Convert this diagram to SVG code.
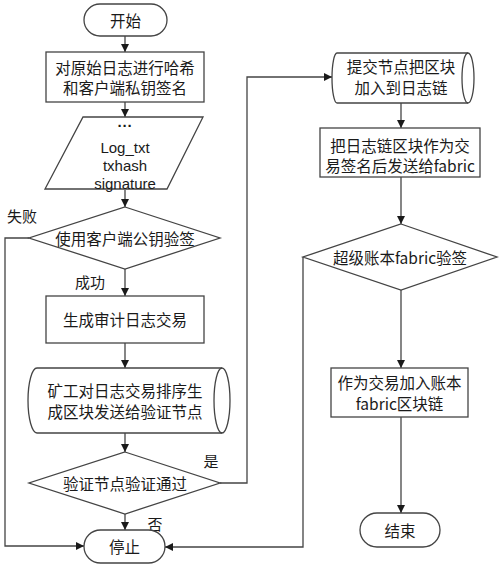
<svg xmlns="http://www.w3.org/2000/svg" width="500" height="569" viewBox="0 0 500 569">
<defs>
<marker id="ah" viewBox="0 0 10 10" refX="10" refY="5" markerWidth="8" markerHeight="8" markerUnits="userSpaceOnUse" orient="auto">
<path d="M0,0 L10,5 L0,10 Z" fill="#1a1a1a"/>
</marker>
<style>
.s{fill:#fff;stroke:#444;stroke-width:1.3}
.c{fill:none;stroke:#444;stroke-width:1.3}
.t{font-family:"Noto Sans CJK SC","Noto Sans",sans-serif;font-size:15.5px;fill:#1a1a1a;text-anchor:middle;dominant-baseline:central}
.e{font-family:"Liberation Sans",Arial,sans-serif;font-size:15px;fill:#1a1a1a;text-anchor:middle;dominant-baseline:central}
.l{font-family:"Noto Sans CJK SC","Noto Sans",sans-serif;font-size:15px;fill:#1a1a1a;text-anchor:middle;dominant-baseline:central}
</style>
</defs>
<rect width="500" height="569" fill="#fff"/>
<g id="connectors">
<path class="c" d="M125,36 V52" marker-end="url(#ah)"/>
<path class="c" d="M125,102 V117" marker-end="url(#ah)"/>
<path class="c" d="M125,190 V207" marker-end="url(#ah)"/>
<path class="c" d="M125,269 V296" marker-end="url(#ah)"/>
<path class="c" d="M125,343 V368" marker-end="url(#ah)"/>
<path class="c" d="M125,433 V452" marker-end="url(#ah)"/>
<path class="c" d="M125,514 V530" marker-end="url(#ah)"/>
<path class="c" d="M29,238 H5 V546 H84" marker-end="url(#ah)"/>
<path class="c" d="M220,483 H247 V77 H332" marker-end="url(#ah)"/>
<path class="c" d="M401,103 V128" marker-end="url(#ah)"/>
<path class="c" d="M401,177 V224" marker-end="url(#ah)"/>
<path class="c" d="M401,290 V368" marker-end="url(#ah)"/>
<path class="c" d="M401,417 V513" marker-end="url(#ah)"/>
<path class="c" d="M303,257 V547 H165" marker-end="url(#ah)"/>
<text class="l" x="22" y="215">失败</text>
<text class="l" x="90" y="281">成功</text>
<text class="l" x="211" y="460">是</text>
<text class="l" x="155" y="523">否</text>
</g>
<g id="start">
<rect class="s" x="84" y="4" width="83" height="32" rx="16"/>
<text class="t" x="125.5" y="20">开始</text>
</g>
<g id="hash">
<rect class="s" x="46" y="52" width="158" height="50"/>
<text class="t" x="125" y="67">对原始日志进行哈希</text>
<text class="t" x="125" y="87">和客户端私钥签名</text>
</g>
<g id="data">
<path class="s" d="M83,117 H203 L167,189 H45 Z"/>
<text class="e" x="125" y="125" font-weight="bold">···</text>
<text class="e" x="125" y="147">Log_txt</text>
<text class="e" x="125" y="165">txhash</text>
<text class="e" x="125" y="183">signature</text>
</g>
<g id="verify-sign">
<path class="s" d="M125,207 L220,238 L125,269 L29,238 Z"/>
<text class="t" x="125" y="238">使用客户端公钥验签</text>
</g>
<g id="audit-tx">
<rect class="s" x="46" y="296" width="158" height="47"/>
<text class="t" x="125" y="319">生成审计日志交易</text>
</g>
<g id="miner">
<path class="s" d="M37,368 L222,368 A8,32.5 0 0 1 222,433 L37,433 A9,32.5 0 0 1 37,368 Z"/>
<path class="c" d="M222,368 A8,32.5 0 0 0 222,433"/>
<text class="t" x="125" y="390">矿工对日志交易排序生</text>
<text class="t" x="125" y="411">成区块发送给验证节点</text>
</g>
<g id="verify-node">
<path class="s" d="M125,452 L220,483 L125,514 L29,483 Z"/>
<text class="t" x="125" y="483">验证节点验证通过</text>
</g>
<g id="stop">
<rect class="s" x="84" y="530" width="81" height="33" rx="16.5"/>
<text class="t" x="124.5" y="546">停止</text>
</g>
<g id="commit">
<path class="s" d="M337,53 L468,53 A6,25 0 0 1 468,103 L337,103 A5,25 0 0 1 337,53 Z"/>
<path class="c" d="M468,53 A6,25 0 0 0 468,103"/>
<text class="t" x="401" y="66">提交节点把区块</text>
<text class="t" x="401" y="87">加入到日志链</text>
</g>
<g id="send-fabric">
<rect class="s" x="320" y="128" width="160" height="49"/>
<text class="t" x="400" y="145">把日志链区块作为交</text>
<text class="t" x="400" y="165">易签名后发送给fabric</text>
</g>
<g id="fabric-verify">
<path class="s" d="M401,224 L497,257 L401,290 L303,257 Z"/>
<text class="t" x="400" y="257">超级账本fabric验签</text>
</g>
<g id="ledger">
<rect class="s" x="331" y="368" width="137" height="49"/>
<text class="t" x="399.5" y="382">作为交易加入账本</text>
<text class="t" x="399.5" y="403">fabric区块链</text>
</g>
<g id="end">
<rect class="s" x="360" y="513" width="80" height="34" rx="17"/>
<text class="t" x="400" y="530">结束</text>
</g>
</svg>
